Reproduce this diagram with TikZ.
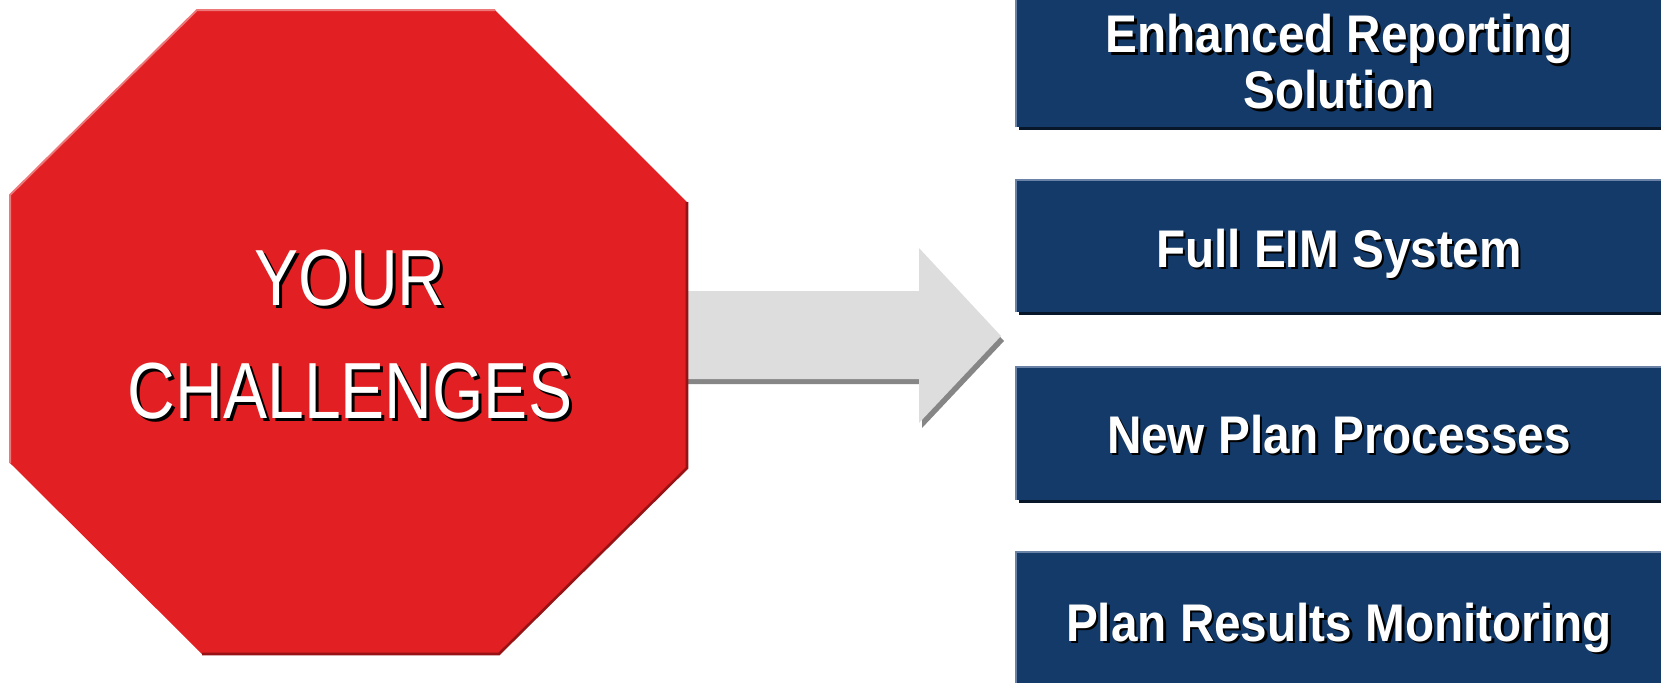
\documentclass[tikz,border=0pt]{standalone}
\usepackage{fontspec}
\setmainfont{Liberation Sans}
\newfontfamily\signfont[FakeStretch=0.83]{Liberation Sans}
\newfontfamily\boxfont[FakeStretch=0.9]{Liberation Sans}
\usetikzlibrary{shadows}

\definecolor{signred}{RGB}{226,31,34}
\definecolor{signlight}{RGB}{236,120,122}
\definecolor{signdark}{RGB}{150,18,20}
\definecolor{arrowfill}{RGB}{221,221,221}
\definecolor{arrowshade}{RGB}{134,134,134}
\definecolor{boxblue}{RGB}{19,58,104}
\definecolor{boxlight}{RGB}{105,130,165}
\definecolor{boxshade}{RGB}{8,22,42}

% white text with a black copy offset down-right behind it
\newcommand\dropshadowed[2]{\rlap{\kern#1\raisebox{-#1}{\color{black}#2}}#2}

\tikzset{
  arrowpath/.style={insert path={(680,291) -- (919,291) -- (919,248) -- (1001,336)
      -- (919,423) -- (919,379) -- (680,379) -- cycle}},
  signtext/.style={font=\signfont\fontsize{39.8}{56.5}\selectfont, text=white,
      align=center, inner sep=0pt},
  bluebox/.style={fill=boxblue, draw=none, inner sep=0pt,
      minimum width=322.5pt, minimum height=66pt,
      general shadow={fill=boxshade, shadow xshift=1.5pt, shadow yshift=-1.5pt}},
  boxedge/.style={draw=boxlight, line width=0.9pt},
  boxtext/.style={font=\boxfont\bfseries\fontsize{26.5}{28}\selectfont, text=white,
      align=center, inner sep=0pt},
}

\begin{document}
\begin{tikzpicture}[x=0.5pt, y=-0.5pt]
\clip (0,0) rectangle (1661,682);
\fill[white] (0,0) rectangle (1661,682);

% block arrow with its shadow
\fill[arrowshade, shift={(3,5)}, arrowpath];
\fill[arrowfill, arrowpath];

% stop sign
\coordinate (o1) at (197,10);
\coordinate (o2) at (495,10);
\coordinate (o3) at (687,202);
\coordinate (o4) at (687,468);
\coordinate (o5) at (499,654);
\coordinate (o6) at (202,654);
\coordinate (o7) at (10,463);
\coordinate (o8) at (10,195);
\fill[signred] (o1) -- (o2) -- (o3) -- (o4) -- (o5) -- (o6) -- (o7) -- (o8) -- cycle;
\draw[signdark, line width=1.3pt, line join=miter] (o3) -- (o4) -- (o5) -- (o6);
\draw[signlight, line width=1pt, line join=miter] (o7) -- (o8) -- (o1) -- (o2);
\node[signtext] (challenges) at (350,336)
  {\dropshadowed{1.5pt}{YOUR}\\\dropshadowed{1.5pt}{CHALLENGES}};

% solution boxes
\node[bluebox] (b1) at (1338.5,61) {};
\node[bluebox] (b2) at (1338.5,246) {};
\node[bluebox] (b3) at (1338.5,433.5) {};
\node[bluebox] (b4) at (1338.5,618.5) {};
\foreach \b in {b1,b2,b3,b4}
  \draw[boxedge] (\b.south west) -- (\b.north west) -- (\b.north east);

\node[boxtext] (t1) at (1339,63)
  {\dropshadowed{1.25pt}{Enhanced Reporting}\\\dropshadowed{1.25pt}{Solution}};
\node[boxtext, anchor=base] (t2) at (1339,267) {\dropshadowed{1.25pt}{Full EIM System}};
\node[boxtext, anchor=base] (t3) at (1339,453) {\dropshadowed{1.25pt}{New Plan Processes}};
\node[boxtext, anchor=base] (t4) at (1339,641) {\dropshadowed{1.25pt}{Plan Results Monitoring}};
\end{tikzpicture}
\end{document}
